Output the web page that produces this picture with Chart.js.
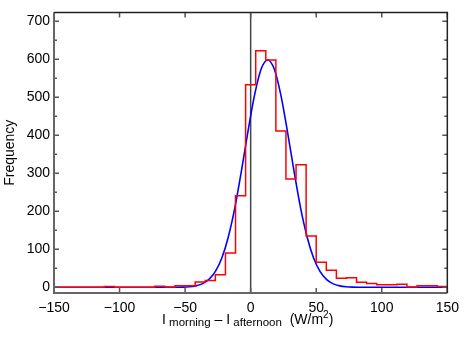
<!DOCTYPE html>
<html>
<head>
<meta charset="utf-8">
<script src="https://cdn.jsdelivr.net/npm/chart.js@4.4.0/dist/chart.umd.min.js"></script>
<style>
  html, body { margin: 0; padding: 0; background: #fff; }
  #wrap { width: 466px; height: 339px; }
</style>
</head>
<body>
<div id="wrap"><canvas id="chart" width="466" height="339"></canvas></div>
<script>
// histogram: 39 bins between -150 and 150 W/m2
const binEdges = [-150, -142.31, -134.62, -126.92, -119.23, -111.54, -103.85, -96.15, -88.46, -80.77,
  -73.08, -65.38, -57.69, -50, -42.31, -34.62, -26.92, -19.23, -11.54, -3.85,
  3.85, 11.54, 19.23, 26.92, 34.62, 42.31, 50, 57.69, 65.38, 73.08,
  80.77, 88.46, 96.15, 103.85, 111.54, 119.23, 126.92, 134.62, 142.31, 150];
const binCounts = [0, 0, 0, 0, 0, 2, 0, 0, 0, 0,
  3, 1, 4, 4, 14, 18, 33, 90, 241, 533,
  622, 598, 411, 285, 322, 135, 66, 45, 24, 25,
  13, 10, 7, 7, 8, 1, 4, 4, 2];

// gaussian fit
const fitX = [-150, -147, -142, -137, -132, -127, -122, -117, -112, -107, -102, -97, -92, -87, -82, -77, -72, -67, -62,
  -57, -52, -47, -42, -37, -32, -27, -22, -17, -12, -7, -2, 3, 8, 13, 18, 23, 28, 33, 38, 43, 48, 53, 58, 63, 68, 73, 78, 83,
  88, 93, 98, 103, 108, 113, 118, 123, 128, 133, 138, 143, 148, 150];
const fitY = [0, 0, 0, 0, 0, 0, 0, 0, 0, 0, 0, 0, 0, 0, 0, 0, 0, 0, 0,
  0.2, 0.5, 1.5, 3.8, 9, 20, 41, 77, 133, 210, 307, 411, 506, 574, 598, 574, 506, 411, 307, 210, 133, 77, 41, 20, 9, 3.8, 1.5, 0.5, 0.2,
  0, 0, 0, 0, 0, 0, 0, 0, 0, 0, 0, 0, 0, 0];

const xTicks = [-150, -100, -50, 0, 50, 100, 150];
const yTicks = [0, 100, 200, 300, 400, 500, 600, 700];
const yMinorTicks = [50, 150, 250, 350, 450, 550, 650];

const histPoints = binCounts.map((c, i) => ({ x: binEdges[i], y: c }));
histPoints.push({ x: binEdges[binEdges.length - 1], y: binCounts[binCounts.length - 1] });
const fitPoints = fitX.map((v, i) => ({ x: v, y: fitY[i] }));

const fmt = v => v < 0 ? '\u2212' + Math.abs(v) : String(v);
const FONT = 'Liberation Sans, Arial, Helvetica, sans-serif';

// frame, inward ticks, zero line and the x title
const framePlugin = {
  id: 'frame',
  beforeDatasetsDraw(chart) {
    const { ctx, chartArea: a, scales: { x } } = chart;
    const px = x.getPixelForValue(0);
    ctx.save();
    ctx.strokeStyle = '#444';
    ctx.lineWidth = 1.5;
    ctx.beginPath();
    ctx.moveTo(px, a.top);
    ctx.lineTo(px, a.bottom);
    ctx.stroke();
    ctx.restore();
  },
  afterDraw(chart) {
    const { ctx, chartArea: a, scales: { x, y } } = chart;
    ctx.save();
    ctx.lineWidth = 1.5;
    ctx.strokeStyle = '#555';
    ctx.beginPath();
    xTicks.forEach(v => {
      const p = x.getPixelForValue(v);
      ctx.moveTo(p, a.bottom); ctx.lineTo(p, a.bottom - 5);
      ctx.moveTo(p, a.top); ctx.lineTo(p, a.top + 5);
    });
    yTicks.forEach(v => {
      const p = y.getPixelForValue(v);
      ctx.moveTo(a.left, p); ctx.lineTo(a.left + 5, p);
      ctx.moveTo(a.right, p); ctx.lineTo(a.right - 5, p);
    });
    yMinorTicks.forEach(v => {
      const p = y.getPixelForValue(v);
      ctx.moveTo(a.left, p); ctx.lineTo(a.left + 3, p);
      ctx.moveTo(a.right, p); ctx.lineTo(a.right - 3, p);
    });
    ctx.stroke();

    // box
    ctx.lineWidth = 2;
    ctx.strokeStyle = '#666';
    ctx.beginPath();
    ctx.moveTo(a.left, a.top); ctx.lineTo(a.left, a.bottom); ctx.lineTo(a.right, a.bottom);
    ctx.stroke();
    ctx.lineWidth = 1.5;
    ctx.strokeStyle = '#222';
    ctx.beginPath();
    ctx.moveTo(a.left, a.top); ctx.lineTo(a.right, a.top); ctx.lineTo(a.right, a.bottom);
    ctx.stroke();

    // x title with sub/superscripts
    const parts = [
      { t: 'I', size: 14, dy: 0 },
      { t: ' morning', size: 11.5, dy: 2 },
      { t: ' \u2013 I', size: 14, dy: 0 },
      { t: ' afternoon', size: 11.5, dy: 2 },
      { t: '  (W/m', size: 14, dy: 0 },
      { t: '2', size: 10, dy: -6 },
      { t: ')', size: 14, dy: 0 }
    ];
    ctx.fillStyle = '#000';
    ctx.textBaseline = 'alphabetic';
    ctx.textAlign = 'left';
    let total = 0;
    parts.forEach(p => {
      ctx.font = p.size + 'px ' + FONT;
      p.w = ctx.measureText(p.t).width;
      total += p.w;
    });
    let cx = (a.left + a.right) / 2 - 3 - total / 2;
    const base = a.bottom + 31;
    parts.forEach(p => {
      ctx.font = p.size + 'px ' + FONT;
      ctx.fillText(p.t, cx, base + p.dy);
      cx += p.w;
    });
    ctx.restore();
  }
};

new Chart(document.getElementById('chart'), {
  type: 'line',
  data: {
    datasets: [
      {
        label: 'histogram',
        data: histPoints,
        stepped: 'before',
        borderColor: '#ff0000',
        borderWidth: 1.5,
        pointRadius: 0,
        fill: false
      },
      {
        label: 'fit',
        data: fitPoints,
        borderColor: '#0000ff',
        borderWidth: 1.6,
        pointRadius: 0,
        cubicInterpolationMode: 'monotone',
        fill: false
      }
    ]
  },
  options: {
    responsive: false,
    animation: false,
    layout: { padding: { top: 1, right: 13, left: 0, bottom: 0 } },
    plugins: {
      legend: { display: false },
      tooltip: { enabled: false }
    },
    scales: {
      x: {
        type: 'linear',
        min: -150,
        max: 150,
        grid: { display: false, drawTicks: false },
        border: { display: false },
        ticks: {
          font: { size: 14, family: FONT },
          color: '#000',
          padding: 7,
          maxRotation: 0,
          autoSkip: false,
          callback: fmt
        },
        afterBuildTicks: s => { s.ticks = xTicks.map(v => ({ value: v })); },
        afterFit: s => { s.height = 46; }
      },
      y: {
        type: 'linear',
        min: -15,
        max: 723,
        grid: { display: false, drawTicks: false },
        border: { display: false },
        ticks: {
          font: { size: 14, family: FONT },
          color: '#000',
          padding: 4,
          includeBounds: false,
          autoSkip: false,
          callback: fmt
        },
        title: {
          display: true,
          text: 'Frequency',
          font: { size: 14, family: FONT },
          color: '#000',
          padding: { top: 2, bottom: 0 }
        },
        afterBuildTicks: s => { s.ticks = yTicks.map(v => ({ value: v })); },
        afterFit: s => { s.width = 54; }
      }
    }
  },
  plugins: [framePlugin]
});
</script>
</body>
</html>
